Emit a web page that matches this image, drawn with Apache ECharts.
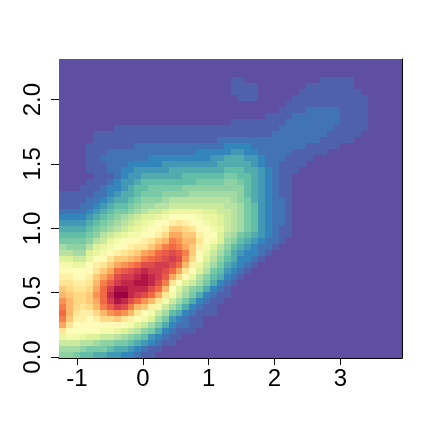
<!DOCTYPE html>
<html><head><meta charset="utf-8">
<style>html,body{margin:0;padding:0;background:#fff}#c{width:432px;height:432px}</style>
<script src="https://cdn.jsdelivr.net/npm/echarts@6/dist/echarts.min.js"></script>
</head><body><div id="c"></div>
<script>
const xTicks = [-1, 0, 1, 2, 3];
const yTicks = [0, 0.5, 1, 1.5, 2];
const xRange = [-1.274, 3.936];
const yRange = [-0.008, 2.315];
const palette = ['#5E4FA2','#3288BD','#66C2A5','#ABDDA4','#E6F598','#FFFFBF','#FEE08B','#FDAE61','#F46D43','#D53E4F','#9E0142'];
// density level per cell (base-32 digit, 0..v), top row first
const densityRows = [
"0",
"0",
"0",
"0000000000 0000000000 0000011000 0000000011 1110000000",
"0000000000 0000000000 0000011110 0000001111 1110000000",
"0000000000 0000000000 0000011110 0000011111 1111000000",
"0000000000 0000000000 0000001110 0000111111 1111100000",
"0000000000 0000000000 0000000000 0001111111 1111100000",
"0000000000 0000000000 0000000000 0011112222 2111100000",
"0000000000 0000000000 0000000000 1111222222 2111100000",
"0000000000 0000000000 0000011111 1112222222 2111100000",
"0000000011 1111111111 1111111111 1122222222 1111100000",
"0000011111 1111111111 1111111111 1222222221 1111000000",
"0000011111 1111111111 1112222222 2222222211 1110000000",
"0000111111 1222222222 2222333322 2222221111 1000000000",
"0000111222 2222222222 3333344332 2222111110 0000000000",
"0000112222 2223333333 3344555443 2221111000 0000000000",
"0000111222 3333344444 4445555543 2211110000 0000000000",
"0000111223 3444445555 5555666554 3211100000 0000000000",
"0000011123 4455555566 6666776654 3211000000 0000000000",
"0000111234 4566666666 7777887654 3211000000 0000000000",
"0001112334 5667777788 8888888654 3211000000 0000000000",
"1111122345 5677788889 9999998654 3211000000 0000000000",
"1111223455 678889aaaa aaaaa98754 3221000000 0000000000",
"1112234566 7899aabbbb bbbbaa9764 3221000000 0000000000",
"2222345677 89abbcdddd dccbba9764 3221000000 0000000000",
"3333456789 abccdeffff eddcba9764 3221000000 0000000000",
"444456789a bcdefghihg fedcba9764 3221000000 0000000000",
"55556789ab cdefghkkji gfedba9764 3211000000 0000000000",
"666678abcd eefghjmmkk hgfca97654 3211000000 0000000000",
"77778abdef gghiklonll igec986543 2210000000 0000000000",
"9888acdefg hiikmopomk heca865432 2100000000 0000000000",
"aa99cdeghi jkmnpqrqok gdb9754332 1000000000 0000000000",
"ccbbdfgikk lmopqrsrnj fca8653321 0000000000 0000000000",
"eeddfhikmn oprrssrplh db97543210 0000000000 0000000000",
"ggffgikmpq rstssrpmif ca76432100 0000000000 0000000000",
"hhgghkmors stutsqmjgd a865321000 0000000000 0000000000",
"iihhiloqst tuutroifcb 9753210000 0000000000 0000000000",
"kjiijmpsuu tttrplfca8 7532100000 0000000000 0000000000",
"lkjjknptvv tsrpmieb97 5321100000 0000000000 0000000000",
"nljjkmpsut rpnlieb975 3211000000 0000000000 0000000000",
"oljijloqsr olkheb9753 2110000000 0000000000 0000000000",
"plihhjlnon ligeb96532 1110000000 0000000000 0000000000",
"okhhghjjki hfec974321 1000000000 0000000000 0000000000",
"migggggggf ecb9753221 1000000000 0000000000 0000000000",
"igffffeedc ba87532111 0000000000 0000000000 0000000000",
"deedccbba9 8764321100 0000000000 0000000000 0000000000",
"bbbaa98877 6543211000 0000000000 0000000000 0000000000",
"9998777655 4321100000 0000000000 0000000000 0000000000",
"8876655443 3211000000 0000000000 0000000000 0000000000"
];

const NC = 50, NR = densityRows.length;
const dx = (xRange[1] - xRange[0]) / NC, dy = (yRange[1] - yRange[0]) / NR;
const cells = [];
densityRows.forEach((row, r) => {
  const s = row.replace(/ /g, '').padEnd(NC, '0');
  for (let c = 0; c < NC; c++) {
    cells.push([xRange[0] + c * dx, yRange[0] + (NR - 1 - r) * dy, parseInt(s[c], 32)]);
  }
});
const font = {fontFamily: '"Liberation Sans", Arial, sans-serif', fontSize: 24, color: '#000'};
const chart = echarts.init(document.getElementById('c'), null, {renderer: 'canvas'});
chart.setOption({
  animation: false,
  backgroundColor: '#fff',
  grid: {left: 59, top: 59, width: 343, height: 299, containLabel: false},
  visualMap: {type: 'continuous', show: false, min: 0, max: 31, seriesIndex: 0, dimension: 2,
    inRange: {color: palette}},
  xAxis: {type: 'value', min: xRange[0], max: xRange[1], position: 'bottom', z: 5,
     splitLine: {show: false},
     axisLine: {show: true, onZero: false, lineStyle: {color: '#000', width: 1}},
     axisTick: {show: true, length: 7, customValues: xTicks, lineStyle: {color: '#000', width: 1}},
     axisLabel: Object.assign({show: true, margin: 9, customValues: xTicks, hideOverlap: false}, font)},
  yAxis: [
    {type: 'value', min: yRange[0], max: yRange[1], position: 'left', z: 5,
     splitLine: {show: false},
     axisLine: {show: false, onZero: false},
     axisTick: {show: true, length: 8, customValues: yTicks, lineStyle: {color: '#000', width: 1}},
     axisLabel: Object.assign({show: true, margin: 14, rotate: 90, customValues: yTicks, hideOverlap: false,
       formatter: v => v.toFixed(1)}, font)},
    {type: 'value', min: yRange[0], max: yRange[1], position: 'right', z: 5,
     splitLine: {show: false},
     axisLine: {show: true, onZero: false, lineStyle: {color: '#000', width: 1}},
     axisTick: {show: false}, axisLabel: {show: false}}
  ],
  series: [{type: 'custom', coordinateSystem: 'cartesian2d', xAxisIndex: 0, yAxisIndex: 0,
    encode: {x: 0, y: 1}, data: cells, progressive: 0,
    renderItem: (params, api) => {
      const a = api.coord([api.value(0), api.value(1) + dy]);
      const b = api.coord([api.value(0) + dx, api.value(1)]);
      const x = Math.round(a[0]), y = Math.round(a[1]);
      return {type: 'rect', shape: {x, y, width: Math.round(b[0]) - x, height: Math.round(b[1]) - y},
        style: {fill: api.visual('color')}};
    }}]
});
</script></body></html>
